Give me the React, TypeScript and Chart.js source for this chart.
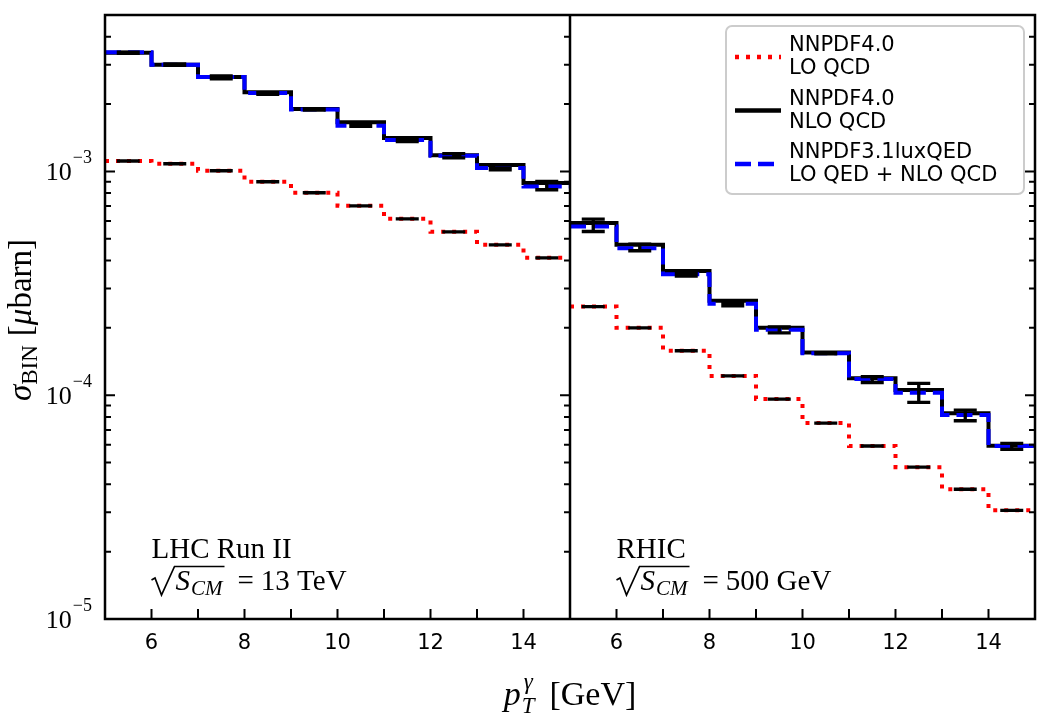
import { useEffect, useRef } from 'react';
import { Chart, registerables } from 'chart.js';

Chart.register(...registerables);

// bin edges in p_T (GeV), same for both panels
const ptEdges = [5, 6, 7, 8, 9, 10, 11, 12, 13, 14, 15];

// LHC Run II, sqrt(S) = 13 TeV (left panel), sigma per bin in microbarn
const lhcLO = [1.113e-3, 1.082e-3, 1.007e-3, 0.899e-3, 0.803e-3, 0.702e-3, 0.614e-3, 0.537e-3, 0.47e-3, 0.411e-3];
const lhcNLO = [3.39e-3, 3.0e-3, 2.64e-3, 2.26e-3, 1.9e-3, 1.66e-3, 1.41e-3, 1.18e-3, 1.068e-3, 0.887e-3];
const lhcQED = [3.41e-3, 3.0e-3, 2.64e-3, 2.24e-3, 1.89e-3, 1.6e-3, 1.38e-3, 1.175e-3, 1.036e-3, 0.857e-3];
const lhcErrLo = [3.37e-3, 2.98e-3, 2.59e-3, 2.21e-3, 1.88e-3, 1.59e-3, 1.36e-3, 1.15e-3, 1.016e-3, 0.828e-3];
const lhcErrHi = [3.41e-3, 3.02e-3, 2.67e-3, 2.25e-3, 1.91e-3, 1.62e-3, 1.39e-3, 1.2e-3, 1.037e-3, 0.902e-3];

// RHIC, sqrt(S) = 500 GeV (right panel)
const rhicLO = [2.49e-4, 2.0e-4, 1.58e-4, 1.22e-4, 9.61e-5, 7.51e-5, 5.93e-5, 4.77e-5, 3.8e-5, 3.06e-5];
const rhicNLO = [5.88e-4, 4.7e-4, 3.59e-4, 2.64e-4, 2.0e-4, 1.55e-4, 1.19e-4, 1.055e-4, 8.3e-5, 5.94e-5];
const rhicQED = [5.67e-4, 4.54e-4, 3.47e-4, 2.56e-4, 1.96e-4, 1.54e-4, 1.18e-4, 1.026e-4, 8.15e-5, 5.93e-5];
const rhicErrLo = [5.39e-4, 4.42e-4, 3.41e-4, 2.51e-4, 1.9e-4, 1.53e-4, 1.14e-4, 9.29e-5, 7.69e-5, 5.73e-5];
const rhicErrHi = [6.12e-4, 4.73e-4, 3.51e-4, 2.59e-4, 2.02e-4, 1.55e-4, 1.21e-4, 1.13e-4, 8.58e-5, 6.09e-5];

const xTickValues = [6, 8, 10, 12, 14];
const yDecades = [-5, -4, -3];

const legendItems = [
  { lines: ['NNPDF4.0', 'LO QCD'], color: '#ff0000', dash: [4, 7] },
  { lines: ['NNPDF4.0', 'NLO QCD'], color: '#000000', dash: [] },
  { lines: ['NNPDF3.1luxQED', 'LO QED + NLO QCD'], color: '#0000ff', dash: [16, 7] },
];

// right panel is drawn on the same x scale, shifted by this amount
const panelOffset = 10;

const SERIF = '"Liberation Serif", "Times New Roman", serif';
const SANS = '"DejaVu Sans", sans-serif';

type Run = { t: string; f: string; dy?: number; gap?: number };

const runsWidth = (ctx: CanvasRenderingContext2D, runs: Run[]) => {
  let w = 0;
  for (const r of runs) {
    ctx.font = r.f;
    w += ctx.measureText(r.t).width + (r.gap || 0);
  }
  return w;
};

const drawRuns = (ctx: CanvasRenderingContext2D, x: number, y: number, runs: Run[]) => {
  let cx = x;
  for (const r of runs) {
    ctx.font = r.f;
    ctx.fillText(r.t, cx, y + (r.dy || 0));
    cx += ctx.measureText(r.t).width + (r.gap || 0);
  }
  return cx;
};

const steps = (vals: number[], shift: number) =>
  ptEdges.map((e, i) => ({ x: e + shift, y: vals[Math.min(i, vals.length - 1)] }));

const overlay = {
  id: 'overlay',
  afterDatasetsDraw(chart: any) {
    const { ctx, chartArea: a, scales } = chart;
    const xs = scales.x;
    const ys = scales.y;
    const xMid = xs.getPixelForValue(15);
    ctx.save();

    // error bars
    const errBars = (lo: number[], hi: number[], shift: number) => {
      ctx.strokeStyle = '#000';
      ctx.lineWidth = 3.3;
      ctx.lineCap = 'butt';
      lo.forEach((l, i) => {
        const cx = xs.getPixelForValue((ptEdges[i] + ptEdges[i + 1]) / 2 + shift);
        const y1 = ys.getPixelForValue(l);
        const y2 = ys.getPixelForValue(hi[i]);
        ctx.beginPath();
        ctx.moveTo(cx, y1);
        ctx.lineTo(cx, y2);
        ctx.moveTo(cx - 11.5, y1);
        ctx.lineTo(cx + 11.5, y1);
        ctx.moveTo(cx - 11.5, y2);
        ctx.lineTo(cx + 11.5, y2);
        ctx.stroke();
      });
    };
    errBars(lhcLO, lhcLO, 0);
    errBars(rhicLO, rhicLO, panelOffset);
    errBars(lhcErrLo, lhcErrHi, 0);
    errBars(rhicErrLo, rhicErrHi, panelOffset);

    // frame
    ctx.strokeStyle = '#000';
    ctx.lineWidth = 2.5;
    ctx.strokeRect(a.left, a.top, a.right - a.left, a.bottom - a.top);
    ctx.beginPath();
    ctx.moveTo(xMid, a.top);
    ctx.lineTo(xMid, a.bottom);
    ctx.stroke();

    // x ticks (inward)
    ctx.lineWidth = 2;
    ctx.beginPath();
    for (let v = 6; v <= 24; v++) {
      if (v === 15) continue;
      const px = xs.getPixelForValue(v);
      ctx.moveTo(px, a.bottom);
      ctx.lineTo(px, a.bottom - 10);
    }
    // y ticks: left spine, divider (left panel right side), right spine
    for (const d of yDecades) {
      for (let m = 1; m <= 9; m++) {
        const v = m * Math.pow(10, d);
        if (v < ys.min || v > ys.max * 0.999) continue;
        const py = ys.getPixelForValue(v);
        const len = m === 1 ? 10 : 6;
        ctx.moveTo(a.left, py);
        ctx.lineTo(a.left + len, py);
        ctx.moveTo(xMid, py);
        ctx.lineTo(xMid - len, py);
        ctx.moveTo(a.right, py);
        ctx.lineTo(a.right - len, py);
      }
    }
    ctx.stroke();

    ctx.fillStyle = '#000';
    ctx.textBaseline = 'alphabetic';

    // x tick labels
    ctx.font = `21px ${SANS}`;
    ctx.textAlign = 'center';
    for (const shift of [0, panelOffset]) {
      for (const v of xTickValues) {
        ctx.fillText(String(v), xs.getPixelForValue(v + shift), a.bottom + 30);
      }
    }

    // y tick labels 10^d
    ctx.textAlign = 'left';
    for (const d of yDecades) {
      const py = ys.getPixelForValue(Math.pow(10, d));
      const runs: Run[] = [
        { t: '10', f: `26px ${SERIF}`, gap: 1 },
        { t: '\u2212' + String(-d), f: `18px ${SERIF}`, dy: -17 },
      ];
      const w = runsWidth(ctx, runs);
      drawRuns(ctx, a.left - 13 - w, py + 9, runs);
    }

    // x axis title
    const fs = 34;
    ctx.font = `italic ${fs}px ${SERIF}`;
    const pW = ctx.measureText('p').width;
    ctx.font = `italic 23px ${SERIF}`;
    const tW = Math.max(ctx.measureText('T').width, ctx.measureText('\u03b3').width);
    const gev: Run[] = [{ t: '[GeV]', f: `${fs}px ${SERIF}` }];
    const gap = 16;
    const total = pW + tW + gap + runsWidth(ctx, gev);
    const x0 = xMid - total / 2;
    const by = a.bottom + 86;
    ctx.font = `italic ${fs}px ${SERIF}`;
    ctx.fillText('p', x0, by);
    ctx.font = `italic 23px ${SERIF}`;
    ctx.fillText('T', x0 + pW + 1, by + 8);
    ctx.fillText('\u03b3', x0 + pW + 3, by - 16);
    drawRuns(ctx, x0 + pW + tW + gap, by, gev);

    // y axis title
    ctx.save();
    ctx.translate(31, (a.top + a.bottom) / 2 + 3);
    ctx.rotate(-Math.PI / 2);
    const yl: Run[] = [
      { t: '\u03c3', f: `italic 33px ${SERIF}` },
      { t: 'BIN', f: `23px ${SERIF}`, dy: 6, gap: 9 },
      { t: '[', f: `33px ${SERIF}` },
      { t: '\u03bc', f: `italic 33px ${SERIF}` },
      { t: 'barn]', f: `33px ${SERIF}` },
    ];
    drawRuns(ctx, -runsWidth(ctx, yl) / 2, 0, yl);
    ctx.restore();

    // panel annotations
    const note = (px: number, title: string, energy: string) => {
      ctx.font = `29px ${SERIF}`;
      ctx.fillText(title, px, a.bottom - 61);
      const b = a.bottom - 29;
      ctx.lineWidth = 1.7;
      ctx.beginPath();
      ctx.moveTo(px, b - 10);
      ctx.lineTo(px + 3.5, b - 12);
      ctx.lineTo(px + 10, b + 5);
      ctx.lineTo(px + 23, b - 23.5);
      const sEnd = drawRuns(ctx, px + 24, b, [
        { t: 'S', f: `italic 29px ${SERIF}`, gap: 1 },
        { t: 'CM', f: `italic 21px ${SERIF}`, dy: 5 },
      ]);
      ctx.lineTo(sEnd + 2, b - 23.5);
      ctx.stroke();
      drawRuns(ctx, sEnd + 15, b, [
        { t: '=', f: `29px ${SERIF}`, gap: 7 },
        { t: energy, f: `29px ${SERIF}` },
      ]);
    };
    note(xs.getPixelForValue(6), 'LHC Run II', '13 TeV');
    note(xs.getPixelForValue(6 + panelOffset), 'RHIC', '500 GeV');

    // legend
    const bw = 298;
    const bh = 168;
    const bx = a.right - 11 - bw;
    const bt = a.top + 11;
    ctx.beginPath();
    ctx.roundRect(bx, bt, bw, bh, 6);
    ctx.fillStyle = 'rgba(255,255,255,0.8)';
    ctx.fill();
    ctx.strokeStyle = '#cccccc';
    ctx.lineWidth = 2;
    ctx.stroke();
    legendItems.forEach((it, i) => {
      const cy = bt + 31 + i * 53.5;
      ctx.strokeStyle = it.color;
      ctx.lineWidth = 4.3;
      ctx.setLineDash(it.dash);
      ctx.beginPath();
      ctx.moveTo(bx + 9, cy);
      ctx.lineTo(bx + 55, cy);
      ctx.stroke();
      ctx.setLineDash([]);
      ctx.fillStyle = '#000';
      ctx.font = `21px ${SANS}`;
      ctx.fillText(it.lines[0], bx + 63, cy - 6);
      ctx.fillText(it.lines[1], bx + 63, cy + 17);
    });

    ctx.restore();
  },
};

export default function App() {
  const chartRef = useRef<HTMLCanvasElement>(null);
  const chartInstance = useRef<Chart | null>(null);

  useEffect(() => {
    if (!chartRef.current) return;
    const ctx = chartRef.current.getContext('2d');
    if (!ctx) return;

    if (chartInstance.current) {
      chartInstance.current.destroy();
    }

    const line = (label: string, data: any, color: string, dash: number[]) => ({
      label,
      data,
      borderColor: color,
      borderDash: dash,
      borderWidth: 4,
      borderCapStyle: 'butt' as const,
      borderJoinStyle: 'miter' as const,
      stepped: 'before' as const,
      pointRadius: 0,
      fill: false,
    });

    chartInstance.current = new Chart(ctx, {
      type: 'line',
      data: {
        datasets: [
          line('NNPDF4.0 LO QCD', steps(lhcLO, 0), '#ff0000', [4, 7]),
          line('NNPDF4.0 LO QCD (RHIC)', steps(rhicLO, panelOffset), '#ff0000', [4, 7]),
          line('NNPDF3.1luxQED', steps(lhcQED, 0), '#0000ff', [16, 7]),
          line('NNPDF3.1luxQED (RHIC)', steps(rhicQED, panelOffset), '#0000ff', [16, 7]),
          line('NNPDF4.0 NLO QCD', steps(lhcNLO, 0), '#000000', []),
          line('NNPDF4.0 NLO QCD (RHIC)', steps(rhicNLO, panelOffset), '#000000', []),
        ],
      },
      options: {
        responsive: true,
        maintainAspectRatio: false,
        animation: false,
        events: [],
        layout: { padding: { left: 105, right: 23, top: 15, bottom: 103 } },
        plugins: {
          legend: { display: false },
          tooltip: { enabled: false },
        },
        scales: {
          x: { type: 'linear', min: 5, max: 25, display: false },
          y: { type: 'logarithmic', min: 1e-5, max: 5e-3, display: false },
        },
      },
      plugins: [overlay],
    });

    return () => {
      if (chartInstance.current) {
        chartInstance.current.destroy();
        chartInstance.current = null;
      }
    };
  }, []);

  return (
    <div style={{ position: 'absolute', left: 0, top: 0, width: 1058, height: 722, background: '#fff' }}>
      <canvas ref={chartRef} />
    </div>
  );
}
